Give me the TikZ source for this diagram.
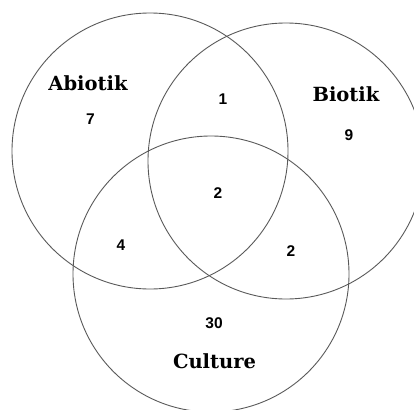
\documentclass[tikz,border=0pt]{standalone}
\usepackage{fontspec}
\setmainfont{DejaVu Serif}
\newfontfamily\numfont{Liberation Sans}
\begin{document}
\begin{tikzpicture}[x=1pt,y=-1pt,
  ring/.style={draw=black!65,line width=0.9pt},
  setname/.style={anchor=base,inner sep=0pt,font=\fontsize{19.5}{19.5}\selectfont\bfseries},
  count/.style={anchor=base,inner sep=0pt,font=\numfont\fontsize{15.5}{15.5}\selectfont\bfseries}]
  \useasboundingbox (0,0) rectangle (414,409);
  % the three sets
  \begin{scope}
    \clip (0,0) rectangle (414,409);
    \draw[ring] (150,151) circle[radius=138];
    \draw[ring] (286,161) circle[radius=138];
    \draw[ring] (211,274) circle[radius=138];
  \end{scope}
  % set names
  \node[setname] (abiotik) at (88,91) {Abiotik};
  \node[setname] (biotik) at (346,101.5) {Biotik};
  \node[setname] (culture) at (214.5,368) {Culture};
  % region counts
  \node[count] (nA)   at (90.5,124) {7};
  \node[count] (nAB)  at (223,104) {1};
  \node[count] (nB)   at (349,140) {9};
  \node[count] (nABC) at (218,198) {2};
  \node[count] (nAC)  at (121,250) {4};
  \node[count] (nBC)  at (291,256) {2};
  \node[count] (nC)   at (214,328) {30};
\end{tikzpicture}
\end{document}
